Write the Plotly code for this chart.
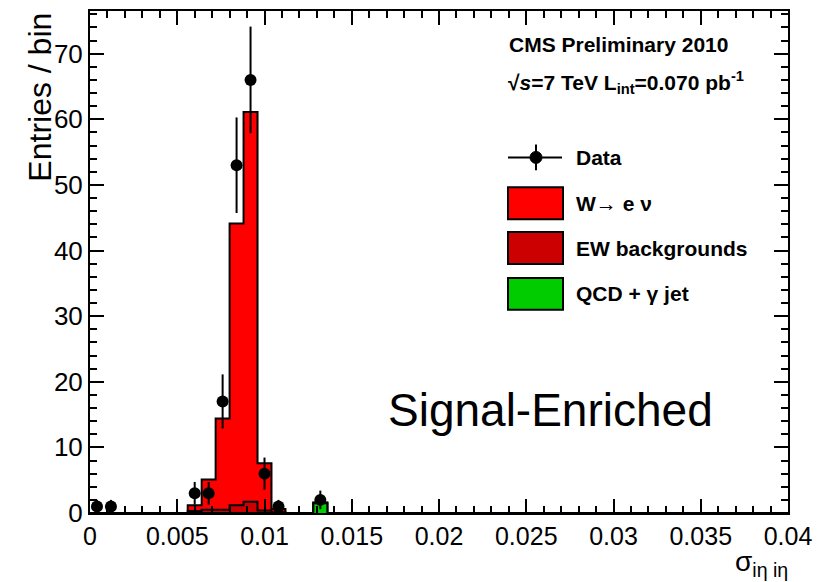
import plotly.graph_objects as go

# ---------------- data ----------------
bin_width = 0.0008
# lower edges of the non-empty bins
bin_lo = [0.0056, 0.0064, 0.0072, 0.0080, 0.0088, 0.0096, 0.0104, 0.0128]
w_enu = [0.9, 4.6, 13.9, 42.9, 59.4, 7.2, 0.5, 0.05]
ew_bkg = [0.3, 0.5, 0.5, 1.2, 1.7, 0.4, 0.1, 0.05]
qcd_gjet = [0.0, 0.0, 0.0, 0.0, 0.0, 0.0, 0.0, 1.5]

data_x = [0.0004, 0.0012, 0.0060, 0.0068, 0.0076, 0.0084, 0.0092, 0.0100, 0.0108, 0.0132]
data_y = [1, 1, 3, 3, 17, 53, 66, 6, 1, 2]

x_ticks = [0, 0.005, 0.01, 0.015, 0.02, 0.025, 0.03, 0.035, 0.04]
x_ticktext = ["0", "0.005", "0.01", "0.015", "0.02", "0.025", "0.03", "0.035", "0.04"]
y_ticks = [0, 10, 20, 30, 40, 50, 60, 70]

X_RANGE = [0, 0.04]
Y_RANGE = [0, 76.5]

FONT = "Liberation Sans, Arial, Helvetica, sans-serif"

# ---------------- helpers ----------------
W, H = 833, 582
L, R, T, B = 90, 45, 9, 69
PW, PH = W - L - R, H - T - B


def px(xp):
    return (xp - L) / PW


def py(yp):
    return (H - B - yp) / PH


def step(vals):
    """Step-curve points (hv) over the full x range, adjacent bins joined."""
    xs = [X_RANGE[0]]
    ys = [0.0]
    prev_hi = None
    for lo, v in zip(bin_lo, vals):
        if prev_hi is not None and abs(lo - prev_hi) < 1e-9:
            xs.append(lo)
            ys.append(v)
        else:
            if prev_hi is not None:
                xs.append(prev_hi)
                ys.append(0.0)
            xs.append(lo)
            ys.append(v)
        prev_hi = lo + bin_width
    xs.append(prev_hi)
    ys.append(0.0)
    xs.append(X_RANGE[1])
    ys.append(0.0)
    return xs, ys


def stacked(*series):
    return [sum(v) for v in zip(*series)]


fig = go.Figure()

layers = [
    (stacked(w_enu, ew_bkg, qcd_gjet), "#ff0000", "W→ e ν"),
    (stacked(ew_bkg, qcd_gjet), "#cc0000", "EW backgrounds"),
    (qcd_gjet, "#00cc00", "QCD + γ jet"),
]
for vals, col, name in layers:
    xs, ys = step(vals)
    fig.add_trace(go.Scatter(
        x=xs, y=ys, mode="lines", line=dict(shape="hv", color="black", width=2),
        fill="tozeroy", fillcolor=col, name=name, showlegend=False,
        hoverinfo="skip"))

fig.add_trace(go.Scatter(
    x=data_x, y=data_y, mode="markers", name="Data", showlegend=False,
    marker=dict(color="black", size=12),
    error_y=dict(type="sqrt", visible=True, color="black", thickness=2, width=0)))

fig.update_xaxes(
    range=X_RANGE, showgrid=False, zeroline=False,
    showline=True, linecolor="black", linewidth=2, mirror="ticks",
    ticks="inside", ticklen=14, tickwidth=1.5, tickcolor="black",
    tickvals=x_ticks, ticktext=x_ticktext,
    minor=dict(ticks="inside", dtick=0.001, ticklen=7, tickwidth=1.5, tickcolor="black", showgrid=False),
    tickfont=dict(family=FONT, size=25, color="black"),
)
fig.update_yaxes(
    range=Y_RANGE, showgrid=False, zeroline=False,
    showline=True, linecolor="black", linewidth=2, mirror="ticks",
    ticks="inside", ticklen=14, tickwidth=1.5, tickcolor="black",
    tickvals=y_ticks,
    minor=dict(ticks="inside", dtick=2, ticklen=7, tickwidth=1.5, tickcolor="black", showgrid=False),
    tickfont=dict(family=FONT, size=26, color="black"),
)

annotations = [
    dict(x=px(40), y=py(96), text="Entries / bin", textangle=-90,
         font=dict(family=FONT, size=32, color="black")),
    dict(x=px(790), y=py(564), text="σ<sub>iη iη</sub>", xanchor="right",
         font=dict(family=FONT, size=28, color="black")),
    dict(x=px(507), y=py(43), text="<b>CMS Preliminary 2010</b>", xanchor="left",
         font=dict(family=FONT, size=21, color="black")),
    dict(x=px(506), y=py(81), text="<b>√<i>s</i>=7 TeV L<sub>int</sub>=0.070 pb<sup>-1</sup></b>",
         xanchor="left", font=dict(family=FONT, size=21, color="black")),
    dict(x=px(550), y=py(410), text="Signal-Enriched",
         font=dict(family=FONT, size=46, color="black")),
]

legend_rows = [
    (156, "Data", None),
    (202, "W→ e ν", "#ff0000"),
    (247, "EW backgrounds", "#cc0000"),
    (293, "QCD + γ jet", "#00cc00"),
]
shapes = []
for yc, label, col in legend_rows:
    annotations.append(dict(
        x=px(574), y=py(yc), text="<b>" + label + "</b>", xanchor="left",
        font=dict(family=FONT, size=21, color="black")))
    if col is None:
        shapes.append(dict(type="line", xref="paper", yref="paper",
                           x0=px(508), x1=px(562), y0=py(yc), y1=py(yc),
                           line=dict(color="black", width=2)))
        shapes.append(dict(type="line", xref="paper", yref="paper",
                           x0=px(536), x1=px(536), y0=py(yc - 13), y1=py(yc + 13),
                           line=dict(color="black", width=2)))
        shapes.append(dict(type="circle", xref="paper", yref="paper",
                           x0=px(530), x1=px(542), y0=py(yc - 6), y1=py(yc + 6),
                           fillcolor="black", line=dict(color="black", width=1)))
    else:
        shapes.append(dict(type="rect", xref="paper", yref="paper",
                           x0=px(508), x1=px(563), y0=py(yc - 16), y1=py(yc + 16),
                           fillcolor=col, line=dict(color="black", width=2)))

for a in annotations:
    a.setdefault("xanchor", "center")
    a.update(xref="paper", yref="paper", showarrow=False, yanchor="middle")

fig.update_layout(
    width=W, height=H,
    margin=dict(l=L, r=R, t=T, b=B),
    paper_bgcolor="white", plot_bgcolor="white",
    showlegend=False,
    annotations=annotations,
    shapes=shapes,
)

fig.write_html("out.html")
